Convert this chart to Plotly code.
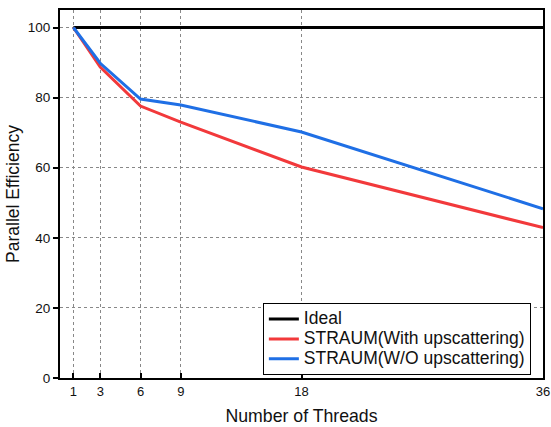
import plotly.graph_objects as go

threads = [1, 3, 6, 9, 18, 36]
ideal = [100, 100, 100, 100, 100, 100]
with_up = [100, 88.7, 77.6, 73.0, 60.2, 42.9]
wo_up = [100, 89.8, 79.6, 77.9, 70.2, 48.3]
series_names = ["Ideal", "STRAUM(With upscattering)", "STRAUM(W/O upscattering)"]
x_ticks = [1, 3, 6, 9, 18, 36]
y_ticks = [0, 20, 40, 60, 80, 100]


def legend_label(s):
    return '<span style="font-size:17.5px">' + s + "</span>"


fig = go.Figure()
fig.add_trace(go.Scatter(x=threads, y=ideal, mode="lines", name=legend_label(series_names[0]),
                         line=dict(color="black", width=3)))
fig.add_trace(go.Scatter(x=threads, y=with_up, mode="lines", name=legend_label(series_names[1]),
                         line=dict(color="#F2393B", width=3)))
fig.add_trace(go.Scatter(x=threads, y=wo_up, mode="lines", name=legend_label(series_names[2]),
                         line=dict(color="#1F6FE5", width=3)))

fig.update_layout(
    width=551, height=427,
    margin=dict(l=60, r=8, t=10, b=49, autoexpand=False),
    paper_bgcolor="white", plot_bgcolor="white",
    font=dict(family="Liberation Sans, Arial", size=14, color="#111111"),
    showlegend=True,
    legend=dict(x=0.42, y=0.008, xanchor="left", yanchor="bottom",
                bordercolor="black", borderwidth=1, bgcolor="white",
                font=dict(size=13), tracegroupgap=0,
                entrywidth=228, entrywidthmode="pixels"),
)
fig.update_xaxes(
    range=[0, 36], tickvals=x_ticks, ticktext=[str(v) for v in x_ticks],
    ticks="inside", ticklen=5, tickwidth=1.5, tickcolor="black",
    showline=True, linecolor="black", linewidth=2, mirror=True,
    showgrid=True, gridcolor="#888888", griddash="dot", gridwidth=1,
    zeroline=False, automargin=False, tickfont=dict(size=13),
    title=dict(text="Number of Threads", font=dict(size=17.7), standoff=12),
)
fig.update_yaxes(
    range=[0, 105], tickvals=y_ticks,
    ticks="outside", ticklen=5, tickwidth=1.5, tickcolor="black",
    showline=True, linecolor="black", linewidth=2, mirror=True,
    showgrid=True, gridcolor="#888888", griddash="dot", gridwidth=1,
    zeroline=False, automargin=False, tickfont=dict(size=13.5),
    title=dict(text="Parallel Efficiency", font=dict(size=17.5), standoff=4),
)

fig.write_html(
    "out.html",
    config={"displayModeBar": False},
    post_script="document.body.style.margin='0';document.body.style.overflow='hidden';",
)
